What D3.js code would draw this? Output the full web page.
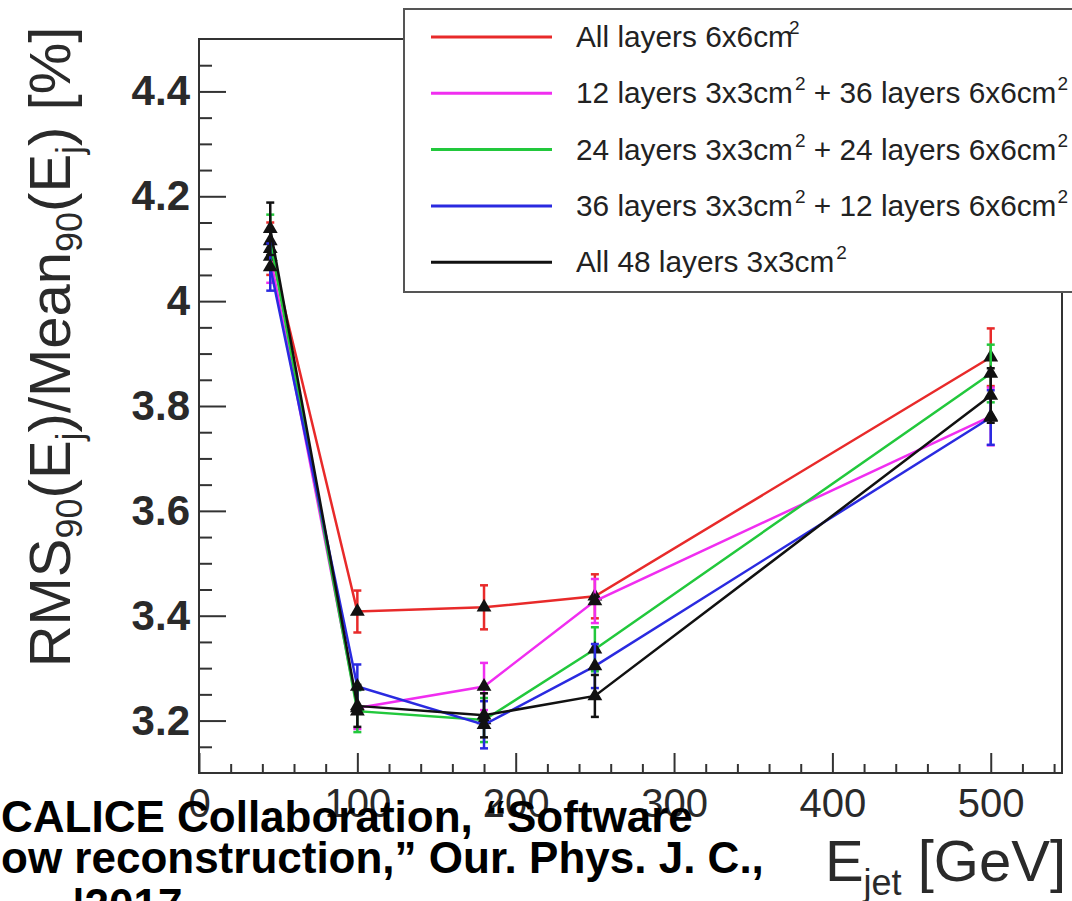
<!DOCTYPE html>
<html>
<head>
<meta charset="utf-8">
<script src="https://cdn.jsdelivr.net/npm/d3@7"></script>
<style>
  html, body { margin: 0; padding: 0; background: #fff; overflow: hidden; }
  svg { display: block; font-family: "Liberation Sans", Arial, Helvetica, sans-serif; }
</style>
</head>
<body>
<svg id="chart" width="1072" height="901"></svg>
<script>
// ---------- data ----------
const energies = [45, 100, 180, 250, 500];
const seriesNames = [
  "All layers 6x6cm",
  "12 layers 3x3cm",
  "24 layers 3x3cm",
  "36 layers 3x3cm",
  "All 48 layers 3x3cm"
];
const seriesSuffix = ["", " + 36 layers 6x6cm", " + 24 layers 6x6cm", " + 12 layers 6x6cm", ""];
const seriesColors = ["#e82a2a", "#f02ef0", "#22c83c", "#2a2ae0", "#111111"];
const redValues     = [4.100, 3.408, 3.416, 3.437, 3.893];
const magentaValues = [4.085, 3.224, 3.265, 3.428, 3.780];
const greenValues   = [4.115, 3.218, 3.201, 3.336, 3.862];
const blueValues    = [4.065, 3.265, 3.192, 3.304, 3.778];
const blackValues   = [4.138, 3.228, 3.210, 3.247, 3.820];
const redErrors     = [0.050, 0.040, 0.042, 0.042, 0.055];
const magentaErrors = [0.050, 0.040, 0.045, 0.042, 0.055];
const greenErrors   = [0.050, 0.040, 0.042, 0.042, 0.055];
const blueErrors    = [0.045, 0.042, 0.045, 0.042, 0.052];
const blackErrors   = [0.050, 0.040, 0.042, 0.040, 0.052];
const xMajorTicks = [0, 100, 200, 300, 400, 500];
const yMajorTicks = [3.2, 3.4, 3.6, 3.8, 4.0, 4.2, 4.4];

const allValues = [redValues, magentaValues, greenValues, blueValues, blackValues];
const allErrors = [redErrors, magentaErrors, greenErrors, blueErrors, blackErrors];

// ---------- layout ----------
const svg = d3.select("#chart");
const x = d3.scaleLinear().domain([0, 545]).range([199, 1062]);
const y = d3.scaleLinear().domain([3.1, 4.5]).range([773, 39]);
const axisColor = "#333";

// frame
svg.append("rect")
  .attr("x", x(0)).attr("y", y(4.5))
  .attr("width", x(545) - x(0)).attr("height", y(3.1) - y(4.5))
  .attr("fill", "none").attr("stroke", axisColor).attr("stroke-width", 2);

// x axis major
const gx = svg.append("g").attr("transform", `translate(0,${y(3.1)})`)
  .call(d3.axisBottom(x).tickValues(xMajorTicks).tickSizeInner(-20).tickSizeOuter(0).tickPadding(16).tickFormat(d3.format("d")));
gx.select(".domain").remove();
gx.selectAll(".tick line").attr("stroke", axisColor).attr("stroke-width", 2);
gx.selectAll(".tick text").attr("font-size", 40).attr("fill", "#2a2a2a")
  .attr("font-family", "Liberation Sans, Arial, sans-serif");

// x axis minor
const gxm = svg.append("g").attr("transform", `translate(0,${y(3.1)})`)
  .call(d3.axisBottom(x).tickValues(d3.range(20, 545, 20).filter(v => v % 100 !== 0)).tickSizeInner(-9).tickSizeOuter(0).tickFormat(""));
gxm.select(".domain").remove();
gxm.selectAll(".tick line").attr("stroke", axisColor).attr("stroke-width", 2);

// y axis major
const gy = svg.append("g").attr("transform", `translate(${x(0)},0)`)
  .call(d3.axisLeft(y).tickValues(yMajorTicks).tickSizeInner(-27).tickSizeOuter(0).tickPadding(9).tickFormat(d => d3.format("")(+d.toFixed(1))));
gy.select(".domain").remove();
gy.selectAll(".tick line").attr("stroke", axisColor).attr("stroke-width", 2);
gy.selectAll(".tick text").attr("font-size", 42).attr("font-weight", "bold").attr("fill", "#2a2a2a");

// y axis minor
const yMinor = d3.range(3.15, 4.5, 0.05).map(v => +v.toFixed(2)).filter(v => !yMajorTicks.some(t => Math.abs(t - v) < 1e-6));
const gym = svg.append("g").attr("transform", `translate(${x(0)},0)`)
  .call(d3.axisLeft(y).tickValues(yMinor).tickSizeInner(-13).tickSizeOuter(0).tickFormat(""));
gym.select(".domain").remove();
gym.selectAll(".tick line").attr("stroke", axisColor).attr("stroke-width", 2);

// ---------- series ----------
const line = d3.line().x(d => x(d[0])).y(d => y(d[1]));
const tri = d3.symbol().type(d3.symbolTriangle).size(95);

allValues.forEach((vals, i) => {
  const pts = energies.map((e, j) => [e, vals[j], allErrors[i][j]]);
  const g = svg.append("g");
  g.append("path").datum(pts).attr("d", line)
    .attr("fill", "none").attr("stroke", seriesColors[i]).attr("stroke-width", 2.5);
  // error bars
  g.selectAll(".eb").data(pts).enter().append("line")
    .attr("x1", d => x(d[0])).attr("x2", d => x(d[0]))
    .attr("y1", d => y(d[1] - d[2])).attr("y2", d => y(d[1] + d[2]))
    .attr("stroke", seriesColors[i]).attr("stroke-width", 2.5);
  g.selectAll(".capt").data(pts).enter().append("line")
    .attr("x1", d => x(d[0]) - 4).attr("x2", d => x(d[0]) + 4)
    .attr("y1", d => y(d[1] + d[2])).attr("y2", d => y(d[1] + d[2]))
    .attr("stroke", seriesColors[i]).attr("stroke-width", 2.5);
  g.selectAll(".capb").data(pts).enter().append("line")
    .attr("x1", d => x(d[0]) - 4).attr("x2", d => x(d[0]) + 4)
    .attr("y1", d => y(d[1] - d[2])).attr("y2", d => y(d[1] - d[2]))
    .attr("stroke", seriesColors[i]).attr("stroke-width", 2.5);
  g.selectAll(".mk").data(pts).enter().append("path")
    .attr("d", tri).attr("transform", d => `translate(${x(d[0])},${y(d[1])})`)
    .attr("fill", "#111");
});

// ---------- legend ----------
const leg = svg.append("g");
leg.append("rect").attr("x", 404).attr("y", 9).attr("width", 700).attr("height", 283)
  .attr("fill", "#fff").attr("stroke", "#555").attr("stroke-width", 2);
seriesNames.forEach((name, i) => {
  const ly = 37 + i * 56.3;
  leg.append("line").attr("x1", 431).attr("x2", 552).attr("y1", ly).attr("y2", ly)
    .attr("stroke", seriesColors[i]).attr("stroke-width", 3);
  const t = leg.append("text").attr("x", 576).attr("y", ly + 10)
    .attr("font-size", 29.8).attr("fill", "#222");
  t.append("tspan").text(name);
  t.append("tspan").attr("font-size", 19).attr("dy", -13).attr("dx", i === 0 ? -4 : 2).text("2");
  if (seriesSuffix[i]) {
    t.append("tspan").attr("dy", 13).text(seriesSuffix[i]);
    t.append("tspan").attr("font-size", 19).attr("dy", -13).attr("dx", 1).text("2");
  }
});

// ---------- axis titles ----------
const yt = svg.append("text")
  .attr("transform", `translate(70,${347}) rotate(-90)`)
  .attr("text-anchor", "middle").attr("font-size", 58).attr("fill", "#2a2a2a");
const sub = (el, s) => el.append("tspan").attr("font-size", 36).attr("dy", 12).text(s);
const norm = (el, s) => el.append("tspan").attr("dy", -12).text(s);
yt.append("tspan").text("RMS");
sub(yt, "90"); norm(yt, "(E"); sub(yt, "j"); norm(yt, ")/Mean");
sub(yt, "90"); norm(yt, "(E"); sub(yt, "j"); norm(yt, ") [%]");

const xt = svg.append("text").attr("x", 1066).attr("y", 881)
  .attr("text-anchor", "end").attr("font-size", 58).attr("fill", "#2a2a2a");
xt.append("tspan").text("E");
xt.append("tspan").attr("font-size", 36).attr("dy", 14).text("jet");
xt.append("tspan").attr("dy", -14).text(" [GeV]");

// ---------- overlaid citation text ----------
const cite = ["CALICE Collaboration, \u201CSoftware", "ow reconstruction,\u201D Our. Phys. J. C.,", " |2017"];
const citeY = [832, 873, 920];
svg.append("g").selectAll("text").data(cite).enter().append("text")
  .attr("x", (d, i) => i === 2 ? 60 : 1).attr("y", (d, i) => citeY[i])
  .attr("font-size", 44).attr("font-weight", "bold").attr("fill", "#000")
  .attr("xml:space", "preserve")
  .text(d => d);
</script>
</body>
</html>
